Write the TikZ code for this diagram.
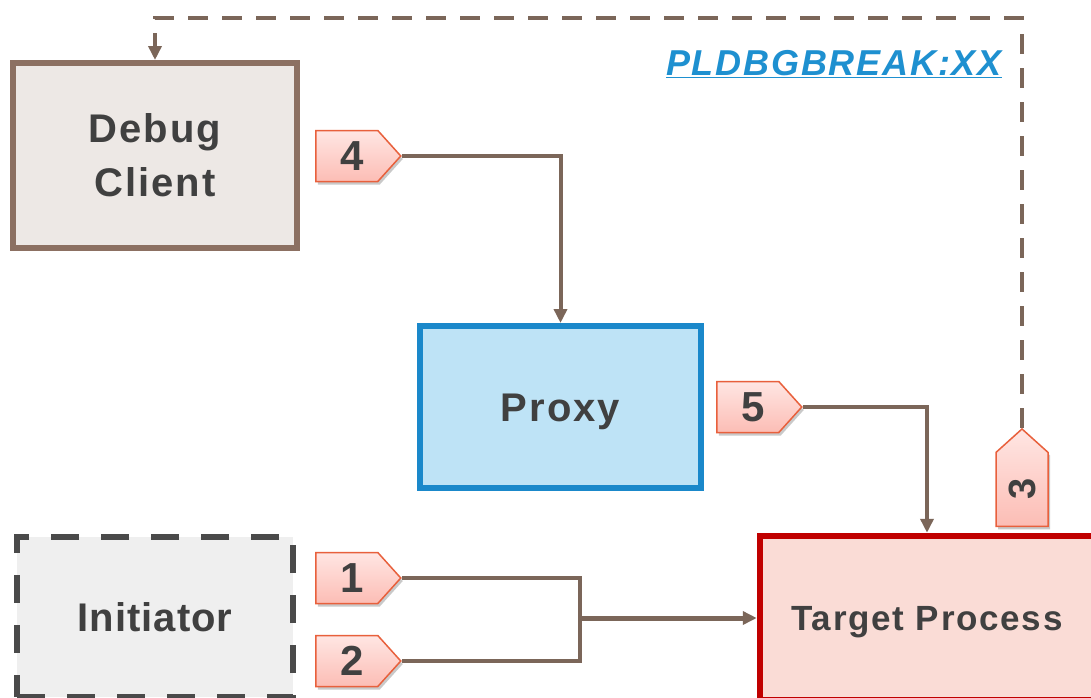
\documentclass[tikz,border=0pt]{standalone}
\usepackage{fontspec}
\setmainfont{Liberation Sans}[LetterSpace=5]
\newfontfamily\tightfont{Liberation Sans}[LetterSpace=2.5]
\usetikzlibrary{shapes.symbols,arrows.meta,shadows,calc}
\definecolor{txt}{HTML}{404040}
\definecolor{dcfill}{HTML}{EDE8E5}
\definecolor{dcline}{HTML}{8C7062}
\definecolor{pxfill}{HTML}{BEE3F6}
\definecolor{pxline}{HTML}{1A88CA}
\definecolor{infill}{HTML}{EFEFEF}
\definecolor{inline}{HTML}{4A4A4A}
\definecolor{tgfill}{HTML}{FADCD6}
\definecolor{tgline}{HTML}{C00000}
\definecolor{conn}{HTML}{7B6659}
\definecolor{tagline}{HTML}{E8603C}
\definecolor{tagtop}{HTML}{FFE6E3}
\definecolor{tagbot}{HTML}{FCBDB5}
\definecolor{lblue}{HTML}{1E90D0}
\tikzset{
  box/.style={rectangle, inner sep=0pt, line width=6pt, text=txt,
    font=\fontsize{40}{54}\selectfont\bfseries, align=center},
  oneline/.style={text height=28.6pt, text depth=0pt},
  tag/.style={signal, signal pointer angle=96, draw=tagline, line width=1.5pt,
    top color=tagtop, bottom color=tagbot, inner sep=0pt, text=txt,
    font=\fontsize{42}{42}\selectfont\bfseries,
    drop shadow={shadow xshift=2pt, shadow yshift=-3pt, fill=black!35, opacity=.6}},
  link/.style={draw=conn, line width=4pt, -{Triangle[length=14pt,width=13pt]}},
  plainlink/.style={draw=conn, line width=4pt},
  dashlink/.style={draw=conn, line width=4pt, dash pattern=on 20pt off 14pt,
    -{Triangle[length=14pt,width=13pt]}}
}
\begin{document}
\begin{tikzpicture}[x=1pt,y=-1pt]
\clip (0,0) rectangle (1091,697);
\useasboundingbox (0,0) rectangle (1091,697);
\fill[white] (0,0) rectangle (1091,697);

\node[box, fill=dcfill, draw=dcline, minimum width=284pt, minimum height=185pt] (debug) at (155,155.5) {Debug\\Client};
\node[box, oneline, fill=pxfill, draw=pxline, minimum width=281pt, minimum height=162pt] (proxy) at (560.5,407) {Proxy};
\node[box, oneline, fill=infill, draw=inline, dash pattern=on 28pt off 22pt, minimum width=276pt, minimum height=160pt,
  font=\tightfont\fontsize{40}{54}\selectfont\bfseries] (init) at (155,617) {Initiator};
\node[box, fill=tgfill, draw=tgline, line width=6.5pt, minimum width=334pt, minimum height=164pt,
  font=\fontsize{35}{40}\selectfont\bfseries, text height=25pt, text depth=0pt] (target) at (927,618) {Target Process};

\node[tag, signal to=east, minimum width=85pt, minimum height=51pt, anchor=west] (t4) at (315,156) {\hspace*{10pt}4};
\node[tag, signal to=east, minimum width=85pt, minimum height=51pt, anchor=west] (t5) at (716,407) {\hspace*{10pt}5};
\node[tag, signal to=east, minimum width=85pt, minimum height=51pt, anchor=west] (t1) at (315,578) {\hspace*{10pt}1};
\node[tag, signal to=east, minimum width=85pt, minimum height=51pt, anchor=west] (t2) at (315,661) {\hspace*{10pt}2};
\node[tag, signal to=north, minimum width=52pt, minimum height=86pt, anchor=south,
  font=\fontsize{38}{38}\selectfont\bfseries] (t3) at (1022,527) {\rotatebox{90}{3}};

\node[anchor=base, text=lblue, font=\fontsize{36}{40}\selectfont\bfseries\itshape] (lbl) at (834,75) {\underline{PLDBGBREAK:XX}};

\coordinate (j) at (580,618);
\coordinate (dtop) at (155,18);

\draw[link] (t4.east) -| (proxy.north);
\draw[link] (t5.east) -| (target.north);
\draw[plainlink] (t1.east) -| (j) |- (t2.east);
\draw[link, line width=5pt] (j) -- (target.west);
\draw[dashlink] (t3.north) |- (dtop) -- (debug.north);
\end{tikzpicture}
\end{document}
